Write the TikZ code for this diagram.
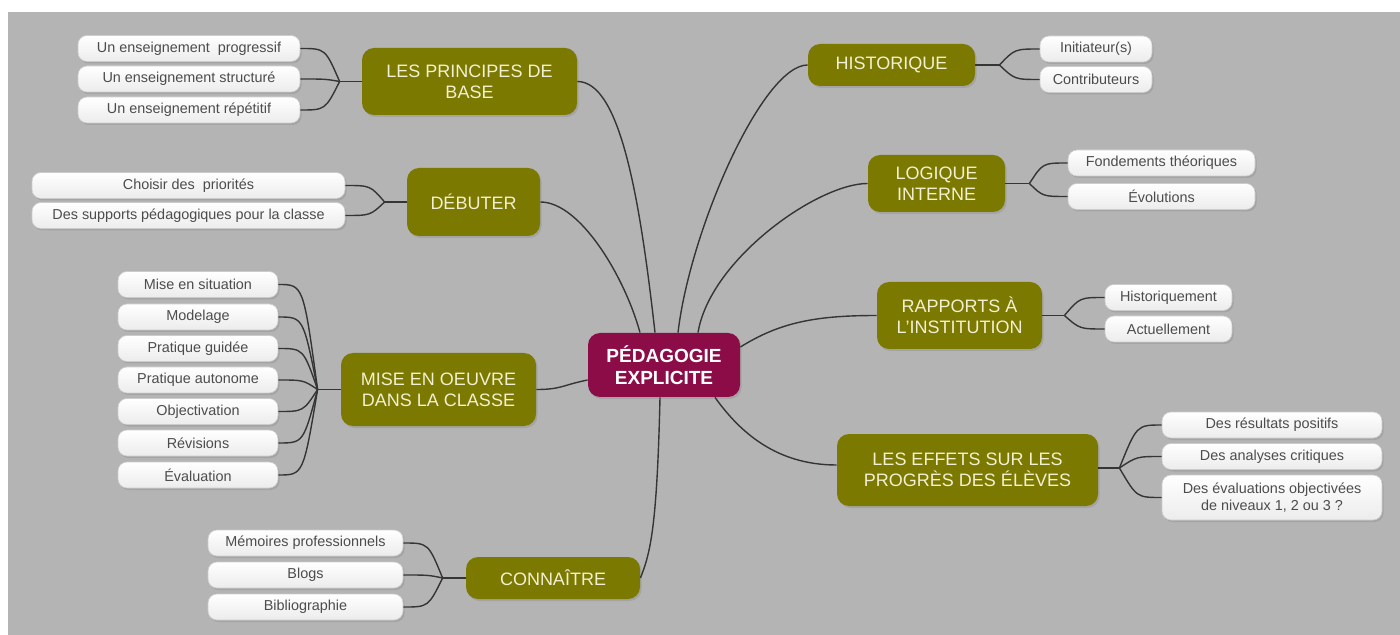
\documentclass[tikz,border=0pt]{standalone}
\usepackage{fontspec}
\setmainfont{Liberation Sans}
\usetikzlibrary{shadows,calc}

\definecolor{fondgris}{HTML}{B4B4B4}
\definecolor{olivebranche}{HTML}{7B7900}
\definecolor{bordeaux}{HTML}{8C0C47}
\definecolor{texteclair}{HTML}{F2F0D2}
\definecolor{trait}{HTML}{353535}

\tikzset{
  ombre/.style={drop shadow={opacity=0.3, shadow xshift=0.8pt, shadow yshift=-1pt}},
  centre/.style={rounded corners=6pt, fill=bordeaux, text=white, align=center,
    font=\fontsize{9.5}{11}\selectfont\bfseries, minimum width=76pt, minimum height=32pt, ombre},
  branche/.style={rounded corners=6pt, fill=olivebranche, text=texteclair, align=center,
    font=\fontsize{9}{10.5}\selectfont, inner sep=1pt, ombre},
  feuille/.style={rounded corners=4.5pt, top color=white, bottom color=gray!15, draw=gray!40,
    line width=0.3pt, text=black!70, align=center, font=\fontsize{7.2}{8.6}\selectfont,
    minimum height=13pt, inner sep=1pt, ombre},
  lien/.style={draw=trait, line width=0.7pt}
}

\begin{document}
\begin{tikzpicture}[x=0.5pt, y=-0.5pt]
    \useasboundingbox (0,0) rectangle (1400,635);
    \fill[white] (0,0) rectangle (1400,635);
    \fill[fondgris] (8,12) rectangle (1400,635);

    % sujet central
    \node[centre] (ped) at (664,365) {PÉDAGOGIE\\EXPLICITE};

    % branches principales
    \node[branche, minimum width=107.5pt, minimum height=33.5pt] (principes) at (469.5,81.5) {LES PRINCIPES DE\\BASE};
    \node[branche, minimum width=66.5pt, minimum height=34pt] (debuter) at (473.5,202) {DÉBUTER};
    \node[branche, minimum width=97.5pt, minimum height=36.5pt] (mise) at (438.5,389.5) {MISE EN OEUVRE\\DANS LA CLASSE};
    \node[branche, minimum width=87pt, minimum height=21pt] (connaitre) at (553,578) {CONNAÎTRE};
    \node[branche, minimum width=83.5pt, minimum height=21pt] (historique) at (891.5,65) {HISTORIQUE};
    \node[branche, minimum width=68.5pt, minimum height=28.5pt] (logique) at (936.5,183.5) {LOGIQUE\\INTERNE};
    \node[branche, minimum width=82.5pt, minimum height=33.5pt] (rapports) at (959.5,315.5) {RAPPORTS À\\L'INSTITUTION};
    \node[branche, minimum width=130.5pt, minimum height=36pt] (effets) at (967.5,470) {LES EFFETS SUR LES\\PROGRÈS DES ÉLÈVES};

    % feuilles
    \node[feuille, minimum width=111pt] (prin1) at (189,48.5) {Un enseignement\ \ progressif};
    \node[feuille, minimum width=111pt] (prin2) at (189,79) {Un enseignement structuré};
    \node[feuille, minimum width=111pt] (prin3) at (189,110) {Un enseignement répétitif};

    \node[feuille, minimum width=156.5pt] (deb1) at (188.5,185.5) {Choisir des\ \ priorités};
    \node[feuille, minimum width=156.5pt] (deb2) at (188.5,215.5) {Des supports pédagogiques pour la classe};

    \node[feuille, minimum width=80pt] (mise1) at (198,284.5) {Mise en situation};
    \node[feuille, minimum width=80pt] (mise2) at (198,317) {Modelage};
    \node[feuille, minimum width=80pt] (mise3) at (198,348.5) {Pratique guidée};
    \node[feuille, minimum width=80pt] (mise4) at (198,380) {Pratique autonome};
    \node[feuille, minimum width=80pt] (mise5) at (198,411.5) {Objectivation};
    \node[feuille, minimum width=80pt] (mise6) at (198,443) {Révisions};
    \node[feuille, minimum width=80pt] (mise7) at (198,475) {Évaluation};

    \node[feuille, minimum width=97.5pt] (con1) at (305.5,543) {Mémoires professionnels};
    \node[feuille, minimum width=97.5pt] (con2) at (305.5,575) {Blogs};
    \node[feuille, minimum width=97.5pt] (con3) at (305.5,607) {Bibliographie};

    \node[feuille, minimum width=56pt] (hist1) at (1096,49) {Initiateur(s)};
    \node[feuille, minimum width=56pt] (hist2) at (1096,79.5) {Contributeurs};

    \node[feuille, minimum width=93.5pt] (log1) at (1161.5,163) {Fondements théoriques};
    \node[feuille, minimum width=93.5pt] (log2) at (1161.5,196.5) {Évolutions};

    \node[feuille, minimum width=63.5pt] (rap1) at (1168.5,297.5) {Historiquement};
    \node[feuille, minimum width=63.5pt] (rap2) at (1168.5,329) {Actuellement};

    \node[feuille, minimum width=110pt] (eff1) at (1272,425) {Des résultats positifs};
    \node[feuille, minimum width=110pt] (eff2) at (1272,456.5) {Des analyses critiques};
    \node[feuille, minimum width=110pt, minimum height=22.5pt] (eff3) at (1272,497.5) {Des évaluations objectivées\\de niveaux 1, 2 ou 3 ?};

    % liens du sujet central
    \draw[lien] (principes.east) .. controls +(43,0) and +(-15,-133) .. ($(ped.north)+(-9,0)$);
    \draw[lien] (debuter.east) .. controls +(40,0) and +(-15,-55) .. ($(ped.north)+(-24,0)$);
    \draw[lien] (historique.west) .. controls +(-45,0) and +(12,-103) .. ($(ped.north)+(14,0)$);
    \draw[lien] (logique.west) .. controls +(-50,0) and +(12,-73) .. ($(ped.north)+(34,0)$);
    \draw[lien] ($(ped.east)+(0,-18)$) .. controls +(40,-25) and +(-60,0) .. (rapports.west);
    \draw[lien] ($(ped.south)+(51,0)$) .. controls +(25,35) and +(-60,0) .. ($(effets.west)+(0,-5)$);
    \draw[lien] ($(ped.south)+(-4,0)$) .. controls +(-3,130) and +(10,-25) .. (connaitre.east);
    \draw[lien] ($(ped.west)+(0,15)$) .. controls +(-25,5) and +(25,0) .. (mise.east);

    % points de jonction
    \coordinate (bprin) at ($(principes.west)+(-22,0)$);
    \coordinate (bdeb) at ($(debuter.west)+(-22,0)$);
    \coordinate (bmise) at ($(mise.west)+(-23,0)$);
    \coordinate (bcon) at ($(connaitre.west)+(-23,0)$);
    \coordinate (bhist) at ($(historique.east)+(24,0)$);
    \coordinate (blog) at ($(logique.east)+(24,0)$);
    \coordinate (brap) at ($(rapports.east)+(22,0)$);
    \coordinate (beff) at ($(effets.east)+(21,-2)$);

    \draw[lien] (principes.west) -- (bprin);
    \draw[lien] (debuter.west) -- (bdeb);
    \draw[lien] (mise.west) -- (bmise);
    \draw[lien] (connaitre.west) -- (bcon);
    \draw[lien] (historique.east) -- (bhist);
    \draw[lien] (logique.east) -- (blog);
    \draw[lien] (rapports.east) -- (brap);
    \draw[lien] ($(effets.east)+(0,-2)$) -- (beff);

    % liens des feuilles
    \foreach \f in {prin1,prin2,prin3}
        \draw[lien] (\f.east) .. controls +(25,0) .. (bprin);
    \foreach \f in {deb1,deb2}
        \draw[lien] (\f.east) .. controls +(25,0) .. (bdeb);
    \foreach \f in {mise1,mise2,mise3,mise4,mise5,mise6,mise7}
        \draw[lien] (\f.east) .. controls +(25,0) .. (bmise);
    \foreach \f in {con1,con2,con3}
        \draw[lien] (\f.east) .. controls +(25,0) .. (bcon);
    \foreach \f in {hist1,hist2}
        \draw[lien] (\f.west) .. controls +(-25,0) .. (bhist);
    \foreach \f in {log1,log2}
        \draw[lien] (\f.west) .. controls +(-25,0) .. (blog);
    \foreach \f in {rap1,rap2}
        \draw[lien] (\f.west) .. controls +(-25,0) .. (brap);
    \foreach \f in {eff1,eff2,eff3}
        \draw[lien] (\f.west) .. controls +(-25,0) .. (beff);
\end{tikzpicture}
\end{document}
